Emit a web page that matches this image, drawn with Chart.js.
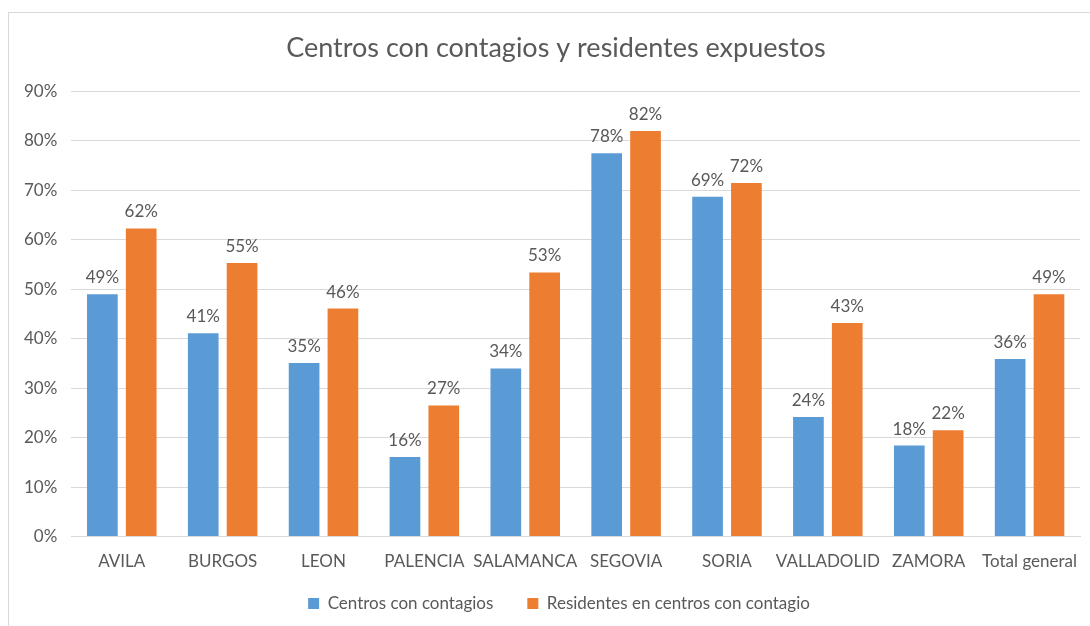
<!DOCTYPE html>
<html>
<head>
<meta charset="utf-8">
<script src="https://cdn.jsdelivr.net/npm/chart.js@4/dist/chart.umd.min.js"></script>
<style>
  body { margin: 0; background: #fff; }
  #frame { position: absolute; left: 8px; top: 12px; width: 1090px; height: 626px; border: 1px solid #d9d9d9; box-sizing: border-box; }
  #wrap { position: absolute; left: 0; top: 0; width: 1090px; height: 626px; }
</style>
</head>
<body>
<div id="frame"></div>
<div id="wrap"><canvas id="chart"></canvas></div>
<script>
// categories and series values (fractions)
const provincias = ['AVILA', 'BURGOS', 'LEON', 'PALENCIA', 'SALAMANCA', 'SEGOVIA', 'SORIA', 'VALLADOLID', 'ZAMORA', 'Total general'];
const centros = [0.49, 0.411, 0.351, 0.161, 0.34, 0.775, 0.687, 0.242, 0.184, 0.359];
const residentes = [0.623, 0.553, 0.461, 0.265, 0.534, 0.82, 0.715, 0.432, 0.215, 0.49];

const textColor = '#595959';
const fontFamily = 'Lato, "Open Sans", sans-serif';

// draw the value over each bar
const barLabels = {
  id: 'barLabels',
  afterDatasetsDraw(chart) {
    const ctx = chart.ctx;
    ctx.save();
    ctx.font = '17px ' + fontFamily;
    ctx.fillStyle = textColor;
    ctx.textAlign = 'center';
    ctx.textBaseline = 'bottom';
    chart.data.datasets.forEach((ds, i) => {
      chart.getDatasetMeta(i).data.forEach((bar, j) => {
        ctx.fillText(Math.round(ds.data[j] * 100) + '%', bar.x, bar.y - 8);
      });
    });
    ctx.restore();
  }
};

// wide gap between legend items without the tall top padding,
// and nudge title + legend a bit right like the original
function nudge(box, dx, dTop) {
  const draw = box.draw;
  box.draw = function (...args) {
    this.left += dx; this.right += dx; this.top += dTop;
    draw.apply(this, args);
    this.left -= dx; this.right -= dx; this.top -= dTop;
  };
}
const layoutTweaks = {
  id: 'layoutTweaks',
  beforeInit(chart) {
    const legend = chart.legend;
    const fit = legend.fit;
    legend.fit = function () { fit.call(this); this.height -= 18; };
    nudge(legend, 14, -18);
    nudge(chart.titleBlock, 11, 0);
  }
};

new Chart(document.getElementById('chart'), {
  type: 'bar',
  data: {
    labels: provincias,
    datasets: [
      { label: 'Centros con contagios', data: centros, backgroundColor: '#5B9BD5' },
      { label: 'Residentes en centros con contagio', data: residentes, backgroundColor: '#ED7D31' }
    ]
  },
  options: {
    responsive: true,
    maintainAspectRatio: false,
    animation: false,
    datasets: { bar: { categoryPercentage: 0.77, barPercentage: 0.79 } },
    layout: { padding: { left: 10, right: 10, top: 32, bottom: 4 } },
    plugins: {
      title: {
        display: true,
        text: 'Centros con contagios y residentes expuestos',
        color: textColor,
        font: { family: fontFamily, size: 27, weight: 'normal' },
        padding: { top: 0, bottom: 27 }
      },
      legend: {
        position: 'bottom',
        labels: {
          color: textColor,
          font: { family: fontFamily, size: 17 },
          boxWidth: 11,
          boxHeight: 11,
          padding: 34
        }
      },
      tooltip: { enabled: false }
    },
    scales: {
      x: {
        grid: { display: false },
        border: { color: '#d9d9d9' },
        ticks: { color: textColor, font: { family: fontFamily, size: 17 }, maxRotation: 0, autoSkip: false, padding: 7 }
      },
      y: {
        min: 0,
        max: 0.9,
        grid: { color: '#d9d9d9', drawTicks: false },
        border: { display: false },
        ticks: {
          stepSize: 0.1,
          padding: 14,
          color: textColor,
          font: { family: fontFamily, size: 17 },
          callback: v => Math.round(v * 100) + '%'
        }
      }
    }
  },
  plugins: [barLabels, layoutTweaks]
});
</script>
</body>
</html>
